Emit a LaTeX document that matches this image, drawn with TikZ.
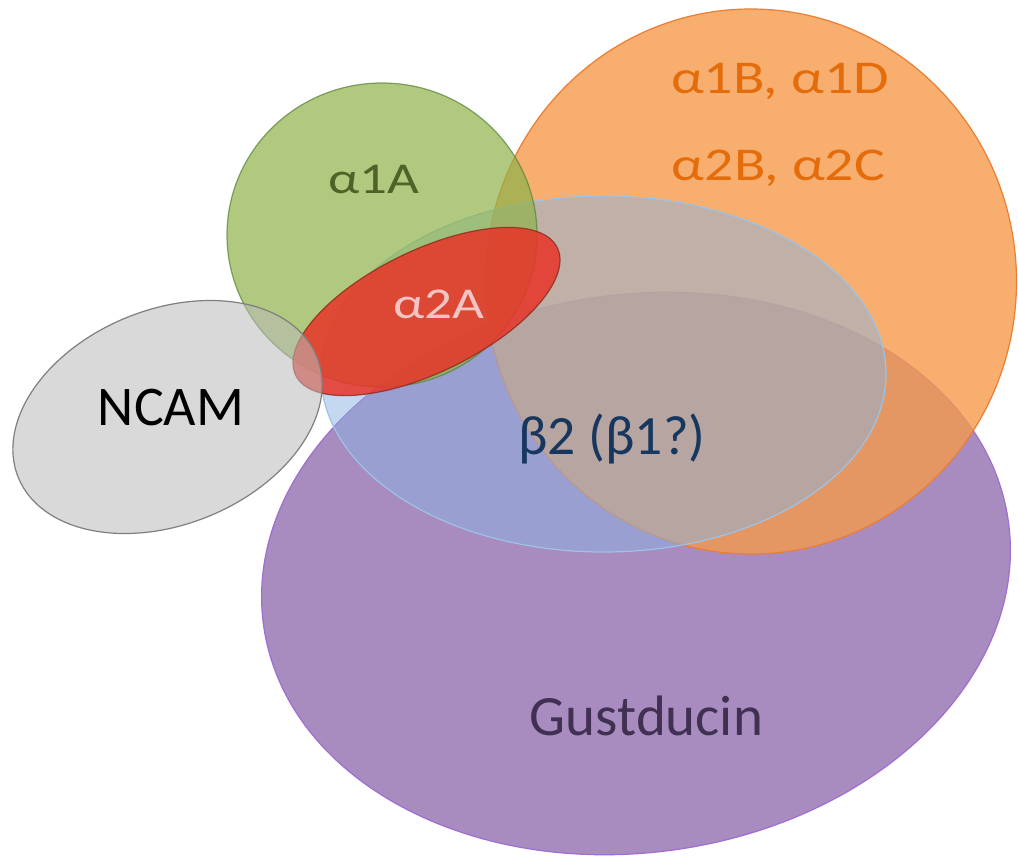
\documentclass[tikz,border=0pt]{standalone}
\usepackage{fontspec}
\setmainfont{Carlito}
\usepackage{graphicx}
\definecolor{purpleFill}{RGB}{168,139,191}
\definecolor{purpleLine}{RGB}{160,110,210}
\definecolor{orangeFill}{RGB}{245,154,76}
\definecolor{orangeLine}{RGB}{237,125,49}
\definecolor{blueFill}{RGB}{139,179,225}
\definecolor{blueLine}{RGB}{157,195,230}
\definecolor{greenFill}{RGB}{143,179,74}
\definecolor{greenLine}{RGB}{84,130,53}
\definecolor{redFill}{RGB}{232,52,40}
\definecolor{redLine}{RGB}{139,42,30}
\definecolor{greyFill}{RGB}{186,186,186}
\definecolor{greyLine}{RGB}{127,127,127}
\definecolor{orangeText}{RGB}{228,108,10}
\definecolor{greenText}{RGB}{79,98,40}
\definecolor{pinkText}{RGB}{242,196,196}
\definecolor{blueText}{RGB}{23,55,94}
\definecolor{purpleText}{RGB}{64,49,82}
\tikzset{
  blob/.style={line width=1.2pt},
  lbl/.style={anchor=base, inner sep=0pt, outer sep=0pt}
}
\begin{document}
\begin{tikzpicture}[x=1pt,y=-1pt]
\useasboundingbox (0,0) rectangle (1018,857);
\fill[white] (0,0) rectangle (1018,857);
% Gustducin (purple)
\draw[blob, fill=purpleFill, draw=purpleLine, rotate around={8:(636,573.5)}]
  (636,573.5) ellipse [x radius=376, y radius=279];
% orange
\draw[blob, fill=orangeFill, fill opacity=0.8, draw=orangeLine]
  (751,281.5) ellipse [x radius=265.5, y radius=272.5];
% blue
\draw[blob, fill=blueFill, fill opacity=0.5, draw=blueLine]
  (603.5,374) ellipse [x radius=282.5, y radius=178];
% green
\draw[blob, fill=greenFill, fill opacity=0.7, draw=greenLine, draw opacity=0.7]
  (382,235) ellipse [x radius=155, y radius=152];
% red
\draw[blob, fill=redFill, fill opacity=0.85, draw=redLine, draw opacity=0.8, rotate around={26:(426.5,311.5)}]
  (426.5,311.5) ellipse [x radius=145.5, y radius=61];
% NCAM grey
\draw[blob, fill=greyFill, fill opacity=0.55, draw=greyLine, rotate around={22:(167.5,417)}]
  (167.5,417) ellipse [x radius=161, y radius=107.5];
% labels
\node[lbl, text=orangeText, font=\fontsize{47}{50}\selectfont] (a1bd) at (780,93) {\scalebox{1.23}[1]{α1B, α1D}};
\node[lbl, text=orangeText, font=\fontsize{47}{50}\selectfont] (a2bc) at (778.5,180) {\scalebox{1.23}[1]{α2B, α2C}};
\node[lbl, text=greenText, font=\fontsize{44}{48}\selectfont] (a1a) at (374,193) {\scalebox{1.25}[1]{α1A}};
\node[lbl, text=pinkText, font=\fontsize{44}{48}\selectfont] (a2a) at (439,318) {\scalebox{1.25}[1]{α2A}};
\node[lbl, text=black, font=\fontsize{56}{60}\selectfont] (ncam) at (171,425) {NCAM};
\node[lbl, text=blueText, font=\fontsize{55.5}{60}\selectfont] (beta) at (612,454) {β2 (β1?)};
\node[lbl, text=purpleText, font=\fontsize{57}{64}\selectfont] (gust) at (646.5,735) {Gustducin};
\end{tikzpicture}
\end{document}
